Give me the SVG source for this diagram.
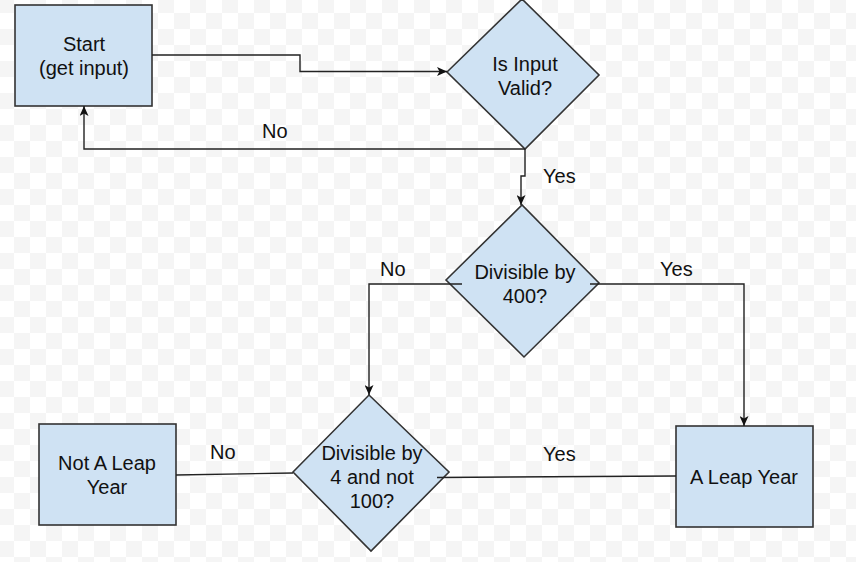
<svg xmlns="http://www.w3.org/2000/svg" width="856" height="562" viewBox="0 0 856 562">
<style>
.node{fill:#cfe2f3;stroke:#333;stroke-width:1.6}
.t{font-family:"Liberation Sans",Arial,sans-serif;font-size:20px;fill:#111;text-anchor:middle}
.lbl{font-family:"Liberation Sans",Arial,sans-serif;font-size:20px;fill:#111}
.c{fill:none;stroke:#222;stroke-width:1.4}
</style>
<defs>
<pattern id="chk" patternUnits="userSpaceOnUse" x="14" y="13" width="32" height="32">
<rect width="32" height="32" fill="#fff"/>
<rect width="16" height="16" fill="#f5f5f5"/>
<rect x="16" y="16" width="16" height="16" fill="#f5f5f5"/>
</pattern>
<marker id="arr" markerUnits="userSpaceOnUse" markerWidth="11" markerHeight="9" refX="10" refY="4.5" orient="auto">
<path d="M0,0 L10,4.5 L0,9 L2.5,4.5 Z" fill="#111"/>
</marker>
</defs>
<rect width="856" height="562" fill="url(#chk)"/>
<g id="start">
<rect class="node" x="15" y="5" width="137" height="101"/>
<text class="t" x="84" y="51">Start</text>
<text class="t" x="84" y="75">(get input)</text>
</g>
<g id="valid">
<polygon class="node" points="447,72 522,-1 599,75 525,149"/>
<text class="t" x="525" y="71">Is Input</text>
<text class="t" x="525" y="95">Valid?</text>
</g>
<g id="div400">
<polygon class="node" points="446,280 522,205 599,283 524,357"/>
<text class="t" x="525" y="279">Divisible by</text>
<text class="t" x="525" y="303">400?</text>
</g>
<g id="div4">
<polygon class="node" points="293,472 369,395 449,472 371,551"/>
<text class="t" x="372" y="460">Divisible by</text>
<text class="t" x="372" y="484">4 and not</text>
<text class="t" x="372" y="508">100?</text>
</g>
<g id="notleap">
<rect class="node" x="39" y="424" width="137" height="101"/>
<text class="t" x="107" y="470">Not A Leap</text>
<text class="t" x="107" y="494">Year</text>
</g>
<g id="leap">
<rect class="node" x="676" y="426" width="137" height="101"/>
<text class="t" x="744" y="484">A Leap Year</text>
</g>
<g id="connectors">
<path class="c" d="M152,55 H300 V71.5 H447" marker-end="url(#arr)"/>
<path class="c" d="M525,149 H84 V106" marker-end="url(#arr)"/>
<path class="c" d="M525,149 V176 H521 V205" marker-end="url(#arr)"/>
<path class="c" d="M462,284 H369 V395" marker-end="url(#arr)"/>
<path class="c" d="M590,284 H744 V426" marker-end="url(#arr)"/>
<path class="c" d="M293,473 L176,475"/>
<path class="c" d="M437,477.5 L676,476"/>
<text class="lbl" x="262" y="138">No</text>
<text class="lbl" x="543" y="183">Yes</text>
<text class="lbl" x="380" y="276">No</text>
<text class="lbl" x="660" y="276">Yes</text>
<text class="lbl" x="210" y="459">No</text>
<text class="lbl" x="543" y="461">Yes</text>
</g>
</svg>
